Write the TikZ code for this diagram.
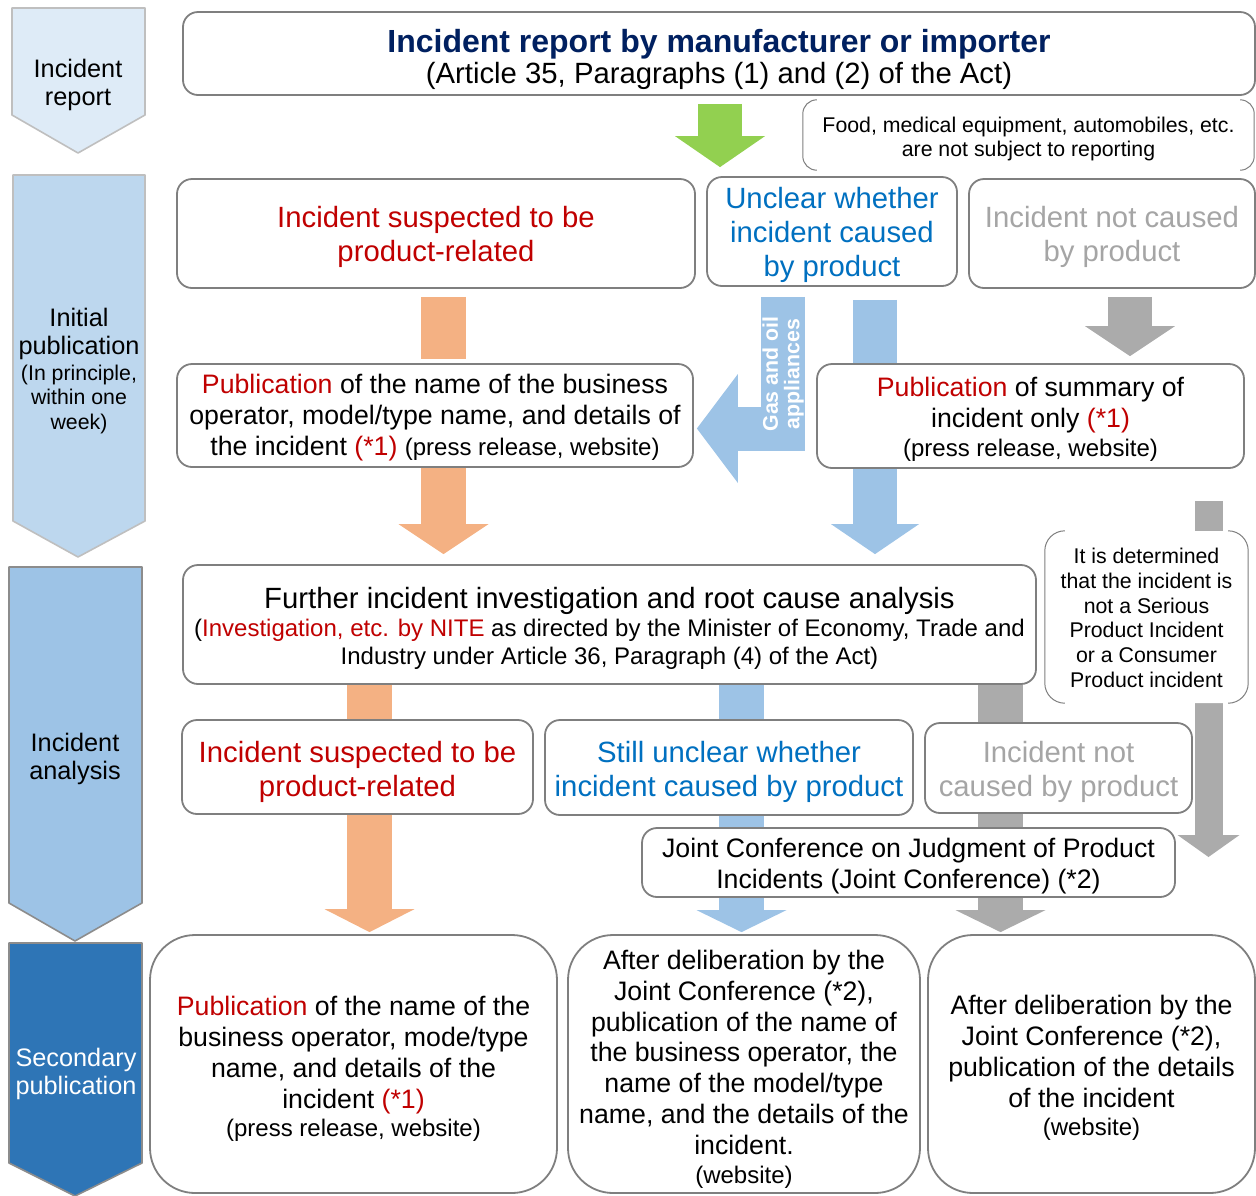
\documentclass[tikz,border=0pt]{standalone}
\usepackage{fontspec}
\setmainfont{Liberation Sans}
\usetikzlibrary{arrows.meta}
\pgfdeclarelayer{background}
\pgfsetlayers{background,main}

\definecolor{bordergray}{HTML}{7F7F7F}
\definecolor{arrorange}{HTML}{F4B183}
\definecolor{arrblue}{HTML}{9DC3E6}
\definecolor{arrgray}{HTML}{ABABAB}
\definecolor{arrgreen}{HTML}{92D050}
\definecolor{txtred}{HTML}{C00000}
\definecolor{txtblue}{HTML}{0070C0}
\definecolor{txtgray}{HTML}{A5A5A5}
\definecolor{txtnavy}{HTML}{002060}
\definecolor{chevA}{HTML}{DEEBF7}
\definecolor{chevB}{HTML}{BDD7EE}
\definecolor{chevC}{HTML}{9DC3E6}
\definecolor{chevD}{HTML}{2E75B6}
\definecolor{chevlineA}{HTML}{BFBFBF}
\definecolor{chevlineB}{HTML}{8C8C8C}

\newcommand\fsXL{\fontsize{32}{38}\selectfont}
\newcommand\fsL{\fontsize{29.3}{34}\selectfont}
\newcommand\fsM{\fontsize{26.7}{30.8}\selectfont}
\newcommand\fsS{\fontsize{24}{29}\selectfont}
\newcommand\fsXS{\fontsize{21.3}{24.8}\selectfont}
\newcommand\fsLab{\fontsize{25.3}{28.5}\selectfont}
% invisible strut that gives the first line of a text block extra height
\newcommand\topstrut[1]{\rule{0pt}{#1}}

\tikzset{
  box/.style={draw=bordergray, line width=1.8pt, fill=white, rounded corners=15pt,
    align=center, inner sep=0pt},
  bigbox/.style={box, rounded corners=45pt},
  notebox/.style={fill=white, rounded corners=#1, align=center, inner sep=0pt, font=\fsXS},
  bracketline/.style={draw=bordergray, line width=1pt, rounded corners=#1},
  chevron/.style={line width=1.6pt, line join=round},
  lab/.style={align=center, inner sep=0pt, font=\fsLab},
  flow/.style={line cap=butt, line join=miter},
  oflow/.style={flow, draw=arrorange, line width=45pt},
  bflow/.style={flow, draw=arrblue, line width=44pt},
  gflow/.style={flow, draw=arrgray, line width=45pt},
  blockhead/.style 2 args={-{Triangle[length=#1, width=#2, line width=0pt]}},
}

\begin{document}
\begin{tikzpicture}[x=1pt, y=-1pt]
\useasboundingbox (0,0) rectangle (1256,1195);

% ---- stage chevrons on the left ----
\draw[chevron, draw=chevlineA, fill=chevA] (12,8) -- (145,8) -- (145,115) -- (78,153) -- (12,115) -- cycle;
\draw[chevron, draw=chevlineA, fill=chevB] (13,175) -- (145,175) -- (145,521) -- (78,557) -- (13,521) -- cycle;
\draw[chevron, draw=chevlineB, fill=chevC] (9,567) -- (142,567) -- (142,903) -- (75,941) -- (9,903) -- cycle;
\draw[chevron, draw=chevlineB, fill=chevD] (9,943) -- (142,943) -- (142,1163) -- (75,1196) -- (9,1163) -- cycle;

\node[lab] (stage1) at (78,82) {\topstrut{24.5pt}Incident\\report};
\node[lab] (stage2) at (79,368)
  {\topstrut{23.5pt}Initial\\publication\\[-3pt]\fsXS (In principle,\\[-4pt]\fsXS within one\\[-4pt]\fsXS week)};
\node[lab] (stage3) at (75,756) {\topstrut{24.5pt}Incident\\analysis};
\node[lab, text=white] (stage4) at (76,1070) {\topstrut{26.5pt}Secondary\\publication};

% ---- boxes ----
\node[box, minimum width=1072pt, minimum height=83pt, font=\fsL] (report) at (719,53.5)
  {{\fsXL\bfseries\color{txtnavy}\topstrut{34.5pt}Incident report by manufacturer or importer}\\[-3pt](Article 35, Paragraphs (1) and (2) of the Act)};

\node[notebox=14pt, minimum width=451pt, minimum height=70pt] (excl) at (1028.5,135)
  {\topstrut{23.5pt}Food, medical equipment, automobiles, etc.\\are not subject to reporting};
\draw[bracketline=14pt] ([xshift=14pt]excl.north west) -- (excl.north west) -- (excl.south west) -- ([xshift=14pt]excl.south west);
\draw[bracketline=14pt] ([xshift=-14pt]excl.north east) -- (excl.north east) -- (excl.south east) -- ([xshift=-14pt]excl.south east);

\node[box, minimum width=518pt, minimum height=109pt, font=\fsL, text=txtred] (susp) at (436,233.5)
  {\topstrut{27.4pt}Incident suspected to be\\product-related};
\node[box, minimum width=250pt, minimum height=109pt, font=\fsL, text=txtblue] (unclear) at (832,231.5)
  {\topstrut{27.4pt}Unclear whether\\incident caused\\by product};
\node[box, minimum width=286pt, minimum height=109pt, font=\fsL, text=txtgray] (notcaused) at (1112,233.5)
  {\topstrut{27.4pt}Incident not caused\\by product};

\node[box, minimum width=516pt, minimum height=103pt, font=\fsM] (pubfull) at (435,415.5)
  {\topstrut{23.5pt}\textcolor{txtred}{Publication} of the name of the business\\operator, model/type name, and details of\\the incident \textcolor{txtred}{(*1)} {\fsS(press release, website)}};
\node[box, minimum width=427pt, minimum height=104pt, font=\fsM] (pubsum) at (1030.5,416)
  {\topstrut{25.5pt}\textcolor{txtred}{Publication} of summary of\\incident only \textcolor{txtred}{(*1)}\\[-2pt]\fsS (press release, website)};

\node[box, minimum width=853pt, minimum height=119pt, font=\fsS] (invest) at (609.5,624.5)
  {{\fsL\topstrut{28.4pt}Further incident investigation and root cause analysis}\\[-1pt](\textcolor{txtred}{Investigation, etc. by NITE} as directed by the Minister of Economy, Trade and\\[-1pt]Industry under Article 36, Paragraph (4) of the Act)};

\node[notebox=20pt, minimum width=203pt, minimum height=172pt] (notserious) at (1146.5,617)
  {\topstrut{17pt}It is determined\\that the incident is\\not a Serious\\Product Incident\\or a Consumer\\Product incident};
\draw[bracketline=20pt] ([xshift=20pt]notserious.north west) -- (notserious.north west) -- (notserious.south west) -- ([xshift=20pt]notserious.south west);
\draw[bracketline=20pt] ([xshift=-20pt]notserious.north east) -- (notserious.north east) -- (notserious.south east) -- ([xshift=-20pt]notserious.south east);

\node[box, minimum width=351pt, minimum height=94pt, font=\fsL, text=txtred] (susp2) at (357.5,767)
  {\topstrut{31.4pt}Incident suspected to be\\product-related};
\node[box, minimum width=368pt, minimum height=95pt, font=\fsL, text=txtblue] (unclear2) at (729,767.5)
  {\topstrut{29.4pt}Still unclear whether\\incident caused by product};
\node[box, minimum width=267pt, minimum height=90pt, font=\fsL, text=txtgray] (notcaused2) at (1058.5,768)
  {\topstrut{29.4pt}Incident not\\caused by product};

\node[box, minimum width=533pt, minimum height=69pt, font=\fsM] (joint) at (908.5,862.5)
  {\topstrut{26.5pt}Joint Conference on Judgment of Product\\Incidents (Joint Conference) (*2)};

\node[bigbox, minimum width=407pt, minimum height=258pt, font=\fsM] (secfull) at (353.5,1064)
  {\topstrut{29.5pt}\textcolor{txtred}{Publication} of the name of the\\business operator, mode/type\\name, and details of the\\incident \textcolor{txtred}{(*1)}\\[-2pt]\fsS (press release, website)};
\node[bigbox, minimum width=352pt, minimum height=258pt, font=\fsM] (secjoint) at (744,1064)
  {\topstrut{29.5pt}After deliberation by the\\Joint Conference (*2),\\publication of the name of\\the business operator, the\\name of the model/type\\name, and the details of the\\incident.\\[-2pt]\fsS (website)};
\node[bigbox, minimum width=327pt, minimum height=258pt, font=\fsM] (secdetail) at (1091.5,1064)
  {\topstrut{27.5pt}After deliberation by the\\Joint Conference (*2),\\publication of the details\\of the incident\\[-2pt]\fsS (website)};

% ---- block arrows (behind the boxes) ----
\coordinate (cGreen) at (720,0);
\coordinate (cA) at (443.5,0);
\coordinate (cB) at (875,0);
\coordinate (cC) at (1130,0);
\coordinate (cG) at (369.5,0);
\coordinate (cH) at (741.5,0);
\coordinate (cI) at (1000.5,0);
\coordinate (gasturn) at (783,428.5);
\coordinate (rightend) at (1208.5,857);

\begin{pgfonlayer}{background}
  \draw[flow, draw=arrgreen, line width=44pt, blockhead={31pt}{90pt}, shorten <=8pt, shorten >=9pt]
    (report.south -| cGreen) -- (unclear.north -| cGreen);

  \draw[oflow, shorten <=8pt, shorten >=4pt] (susp.south -| cA) -- (pubfull.north -| cA);
  \draw[oflow, blockhead={30pt}{90pt}, shorten >=10pt] (pubfull.south -| cA) -- (invest.north -| cA);

  \draw[bflow, blockhead={41pt}{109pt}, shorten <=10pt, shorten >=3pt]
    (unclear.south -| gasturn) -- (gasturn) -- (gasturn -| pubfull.east);
  \draw[bflow, blockhead={30pt}{88pt}, shorten <=13pt, shorten >=10pt] (unclear.south -| cB) -- (invest.north -| cB);

  \draw[gflow, line width=44pt, blockhead={30pt}{90pt}, shorten <=8pt, shorten >=7pt] (notcaused.south -| cC) -- (pubsum.north -| cC);
  \draw[gflow, line width=28pt, blockhead={22pt}{62pt}, shorten <=32pt] (pubsum.south -| rightend) -- (rightend);

  \draw[oflow] (invest.south -| cG) -- (susp2.north -| cG);
  \draw[bflow, line width=45pt] (invest.south -| cH) -- (unclear2.north -| cH);
  \draw[gflow] (invest.south -| cI) -- (notcaused2.north -| cI);

  \draw[oflow, blockhead={23pt}{90pt}, shorten >=2pt] (susp2.south -| cG) -- (secfull.north -| cG);
  \draw[bflow, line width=45pt] (unclear2.south -| cH) -- (joint.north -| cH);
  \draw[bflow, line width=45pt, blockhead={22pt}{90pt}, shorten >=2pt] (joint.south -| cH) -- (secjoint.north -| cH);
  \draw[gflow] (notcaused2.south -| cI) -- (joint.north -| cI);
  \draw[gflow, blockhead={22pt}{90pt}, shorten >=2pt] (joint.south -| cI) -- (secdetail.north -| cI);
\end{pgfonlayer}

\node[rotate=90, text=white, font=\fontsize{21.3}{21.5}\selectfont\bfseries, align=center, inner sep=0pt]
  (gaslab) at (783,374) {Gas and oil\\appliances};

\end{tikzpicture}
\end{document}
